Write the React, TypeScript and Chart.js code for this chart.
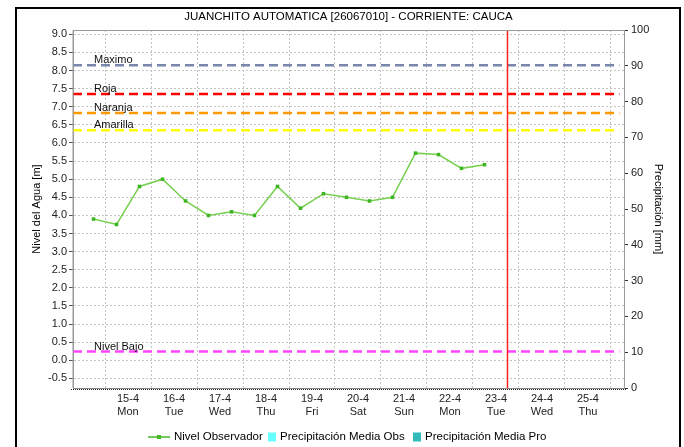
import React, { useEffect, useRef } from "react";
import { Chart, registerables } from "chart.js";

Chart.register(...registerables);

const chartTitle = "JUANCHITO AUTOMATICA [26067010] - CORRIENTE: CAUCA";
const dayLabels = ["15-4", "16-4", "17-4", "18-4", "19-4", "20-4", "21-4", "22-4", "23-4", "24-4", "25-4"];
const weekdayLabels = ["Mon", "Tue", "Wed", "Thu", "Fri", "Sat", "Sun", "Mon", "Tue", "Wed", "Thu"];
const dayLabelPositions = [0.5, 1.5, 2.5, 3.5, 4.5, 5.5, 6.5, 7.5, 8.5, 9.5, 10.5];
const dayGridPositions = [0, 1, 2, 3, 4, 5, 6, 7, 8, 9, 10, 11];
// time in days since 15-4 00:00
const obsTimes = [-0.25, 0.25, 0.75, 1.25, 1.75, 2.25, 2.75, 3.25, 3.75, 4.25, 4.75, 5.25, 5.75, 6.25, 6.75, 7.25, 7.75, 8.25];
const obsLevels = [3.9, 3.75, 4.8, 5.0, 4.4, 4.0, 4.1, 4.0, 4.8, 4.2, 4.6, 4.5, 4.4, 4.5, 5.72, 5.68, 5.3, 5.4];
const refNames = ["Maximo", "Roja", "Naranja", "Amarilla", "Nivel Bajo"];
const refLevels = [8.15, 7.35, 6.83, 6.35, 0.24];
const refColors = ["#7b86ab", "#ff0000", "#ff9900", "#ffff00", "#ff44ff"];
const nowTime = 8.75;
const xMin = -0.696;
const xMax = 11.283;
const yMin = -0.765;
const yMax = 9.12;
const precipMin = 0;
const precipMax = 100;
const legendNames = ["Nivel Observador", "Precipitación Media Obs", "Precipitación Media Pro"];
const legendColors = ["#44bb22", "#66ffff", "#33bbbb"];

const FONT = "'Liberation Sans', Arial, sans-serif";

const decor = {
  id: "decor",
  beforeDraw(chart: any) {
    const ctx = chart.ctx;
    ctx.save();
    ctx.fillStyle = "#ffffff";
    ctx.fillRect(0, 0, chart.width, chart.height);
    ctx.restore();
  },
  afterDraw(chart: any) {
    const ctx = chart.ctx;
    const a = chart.chartArea;
    const ys = chart.scales.y;
    ctx.save();
    // plot border
    ctx.strokeStyle = "#999999";
    ctx.lineWidth = 1;
    ctx.beginPath();
    ctx.moveTo(a.left, a.bottom);
    ctx.lineTo(a.left, a.top + 0.5);
    ctx.lineTo(a.right + 0.5, a.top + 0.5);
    ctx.lineTo(a.right + 0.5, a.bottom);
    ctx.stroke();
    // frame
    ctx.strokeStyle = "#000000";
    ctx.lineWidth = 2;
    ctx.strokeRect(16, 8, 664, 460);
    // title
    ctx.fillStyle = "#000000";
    ctx.font = `11.5px ${FONT}`;
    ctx.textAlign = "center";
    ctx.textBaseline = "middle";
    ctx.fillText(chartTitle, (a.left + a.right) / 2, 17);
    // axis titles
    ctx.font = `11px ${FONT}`;
    ctx.save();
    ctx.translate(37, (a.top + a.bottom) / 2);
    ctx.rotate(-Math.PI / 2);
    ctx.fillText("Nivel del Agua [m]", 0, 0);
    ctx.restore();
    ctx.save();
    ctx.translate(658, (a.top + a.bottom) / 2);
    ctx.rotate(Math.PI / 2);
    ctx.fillText("Precipitación [mm]", 0, 0);
    ctx.restore();
    // reference labels
    ctx.textAlign = "left";
    ctx.textBaseline = "alphabetic";
    ctx.font = `11px ${FONT}`;
    ctx.fillStyle = "#111111";
    refNames.forEach((n, i) => {
      ctx.fillText(n, 94, ys.getPixelForValue(refLevels[i]) - 2);
    });
    // bottom axis dotted edge
    ctx.strokeStyle = "#222222";
    ctx.lineWidth = 1;
    ctx.setLineDash([1, 1]);
    ctx.beginPath();
    ctx.moveTo(a.left - 2, a.bottom + 1.5);
    ctx.lineTo(a.right + 2, a.bottom + 1.5);
    ctx.stroke();
    ctx.setLineDash([]);
    // legend
    const ly = 437;
    ctx.font = `11.5px ${FONT}`;
    ctx.textBaseline = "middle";
    ctx.strokeStyle = legendColors[0];
    ctx.lineWidth = 1.5;
    ctx.beginPath();
    ctx.moveTo(148, ly);
    ctx.lineTo(170, ly);
    ctx.stroke();
    ctx.fillStyle = legendColors[0];
    ctx.fillRect(157, ly - 2, 4, 4);
    ctx.fillStyle = "#000000";
    ctx.fillText(legendNames[0], 174, ly);
    ctx.fillStyle = legendColors[1];
    ctx.fillRect(268, ly - 4.5, 8, 9);
    ctx.fillStyle = "#000000";
    ctx.fillText(legendNames[1], 280, ly);
    ctx.fillStyle = legendColors[2];
    ctx.fillRect(413, ly - 4.5, 8, 9);
    ctx.fillStyle = "#000000";
    ctx.fillText(legendNames[2], 425, ly);
    ctx.restore();
  },
};

export default function App() {
  const ref = useRef<HTMLCanvasElement | null>(null);
  useEffect(() => {
    if (!ref.current) return;
    const refDatasets = refLevels.map((v, i) => ({
      label: refNames[i],
      data: [
        { x: xMin, y: v },
        { x: xMax - 0.1, y: v },
      ],
      borderColor: refColors[i],
      borderWidth: 2.5,
      borderDash: [9, 5],
      pointRadius: 0,
      xAxisID: "x",
      yAxisID: "y",
      order: 3,
    }));
    const chart = new Chart(ref.current, {
      type: "line",
      data: {
        datasets: [
          ...refDatasets,
          {
            label: "Ahora",
            data: [
              { x: nowTime, y: yMin },
              { x: nowTime, y: yMax },
            ],
            borderColor: "#ff2222",
            borderWidth: 1.5,
            pointRadius: 0,
            xAxisID: "x",
            yAxisID: "y",
            order: 2,
          },
          {
            label: legendNames[0],
            data: obsTimes.map((t, i) => ({ x: t, y: obsLevels[i] })),
            borderColor: "#77d050",
            borderWidth: 1.5,
            pointStyle: "rect",
            pointRadius: 2.5,
            pointBackgroundColor: "#3cb521",
            pointBorderColor: "#3cb521",
            pointBorderWidth: 0,
            tension: 0,
            xAxisID: "x",
            yAxisID: "y",
            order: 1,
          },
        ] as any,
      },
      options: {
        animation: false,
        responsive: false,
        layout: { padding: { top: 30, left: 0, right: 0, bottom: 0 } },
        plugins: { legend: { display: false }, title: { display: false }, tooltip: { enabled: false } },
        scales: {
          x: {
            type: "linear",
            position: "bottom",
            min: xMin,
            max: xMax,
            afterBuildTicks: (s: any) => {
              s.ticks = dayLabelPositions.map((v) => ({ value: v }));
            },
            afterFit: (s: any) => {
              s.height = 59;
            },
            grid: { display: false, drawTicks: false },
            border: { display: true, color: "#888888", width: 1 },
            ticks: {
              autoSkip: false,
              maxRotation: 0,
              padding: 4,
              color: "#222222",
              font: { family: FONT, size: 11 },
              callback: (v: any) => {
                const i = dayLabelPositions.indexOf(Number(v));
                return i >= 0 ? [dayLabels[i], weekdayLabels[i]] : "";
              },
            },
          },
          xg: {
            type: "linear",
            position: "top",
            min: xMin,
            max: xMax,
            afterBuildTicks: (s: any) => {
              s.ticks = dayGridPositions.map((v) => ({ value: v }));
            },
            afterFit: (s: any) => {
              s.height = 0;
            },
            grid: { display: true, color: "#c4c4c4", drawTicks: false, lineWidth: 1 },
            border: { display: false, dash: [2, 2] },
            ticks: { display: false },
          },
          y: {
            type: "linear",
            position: "left",
            min: yMin,
            max: yMax,
            afterBuildTicks: (s: any) => {
              const t: any[] = [];
              for (let v = -0.5; v <= 9.0001; v += 0.5) t.push({ value: Math.round(v * 10) / 10 });
              s.ticks = t;
            },
            afterFit: (s: any) => {
              s.width = 73;
            },
            grid: { color: "#c4c4c4", tickColor: "#555555", tickLength: 4, tickBorderDash: [] },
            border: { display: true, color: "#999999", dash: [2, 2] },
            ticks: {
              padding: 2,
              color: "#222222",
              font: { family: FONT, size: 11 },
              callback: (v: any) => Number(v).toFixed(1),
            },
          },
          y1: {
            type: "linear",
            position: "right",
            min: precipMin,
            max: precipMax,
            afterFit: (s: any) => {
              s.width = 60;
            },
            grid: { drawOnChartArea: false, tickColor: "#333333", tickLength: 4 },
            border: { display: true, color: "#999999" },
            ticks: {
              stepSize: 10,
              padding: 3,
              color: "#222222",
              font: { family: FONT, size: 11 },
            },
          },
        },
      } as any,
      plugins: [decor],
    });
    return () => chart.destroy();
  }, []);
  return (
    <div style={{ position: "absolute", left: 0, top: 0, width: 684, height: 447, background: "#fff" }}>
      <canvas ref={ref} width={684} height={447} style={{ width: 684, height: 447, display: "block" }} />
    </div>
  );
}
